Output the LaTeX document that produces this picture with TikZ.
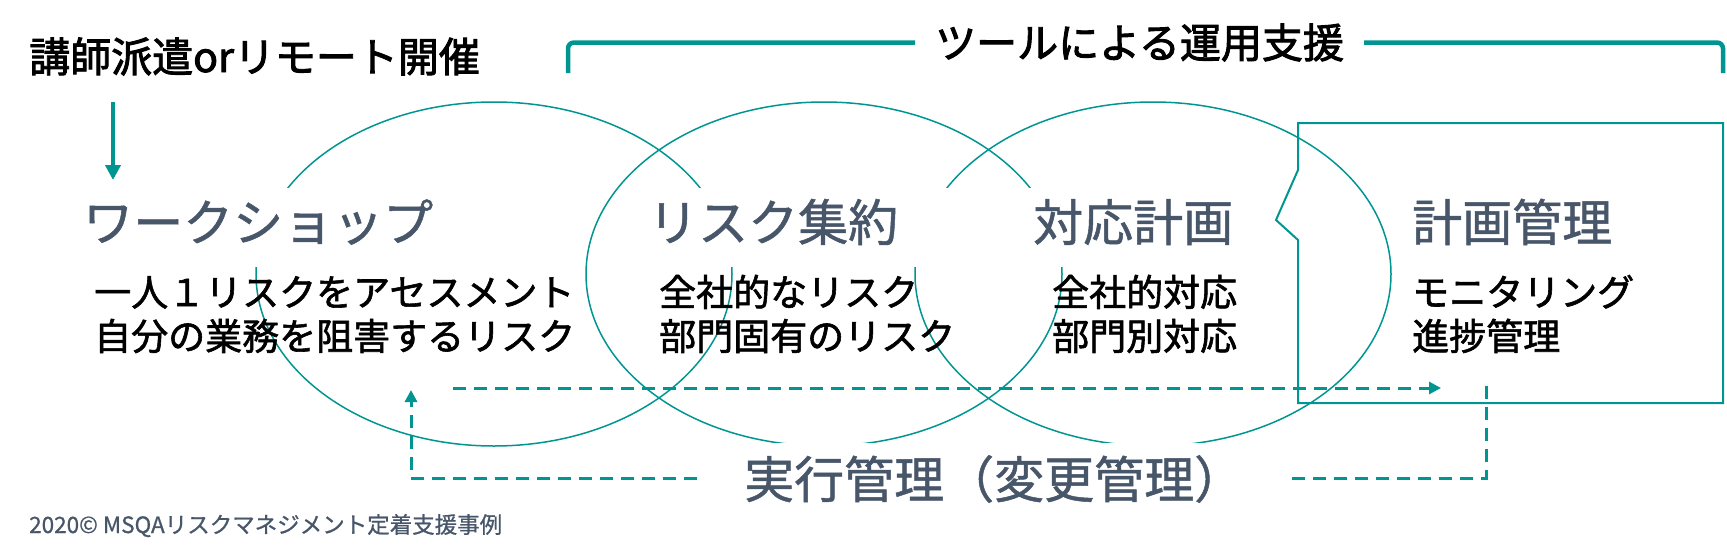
\documentclass[tikz,border=0pt]{standalone}
\usepackage{fontspec}
\setmainfont{Noto Sans CJK JP}
\newfontfamily\titlefont{Noto Sans CJK JP}[FakeBold=2.2]
\newfontfamily\bodyfont{Noto Sans CJK JP}[FakeBold=1.6]
\newfontfamily\headfont{Noto Sans CJK JP}[FakeBold=1.0]
\newfontfamily\footfont{Noto Sans CJK JP}[FakeBold=0.8]
\usetikzlibrary{arrows.meta,shapes.geometric}
\definecolor{teal1}{HTML}{009590}
\definecolor{slate}{RGB}{72,86,106}
\begin{document}
\begin{tikzpicture}[x=1pt,y=-1pt,
  ring/.style={draw=teal1, line width=1.5pt, ellipse, minimum width=476pt, minimum height=344pt, inner sep=0pt, outer sep=0pt},
  head/.style={font=\headfont\fontsize{50}{60}\selectfont, text=slate, anchor=base west, inner ysep=0pt, text height=53pt, text depth=26pt},
  body/.style={font=\bodyfont\fontsize{37}{44}\selectfont, anchor=base west, inner sep=0pt},
  big/.style={font=\titlefont\fontsize{41}{49}\selectfont, anchor=base west, inner sep=0pt},
  flow/.style={draw=teal1, line width=3pt, dash pattern=on 13pt off 8pt},
  flowtip/.style={-{Triangle[length=12pt,width=12pt]}},
  bracketline/.style={draw=teal1, line width=4.5pt, rounded corners=6pt},
  boxline/.style={draw=teal1, line width=2pt, line join=miter},
  thickarrow/.style={draw=teal1, line width=4.5pt, -{Triangle[length=15pt,width=15pt]}}
]
\useasboundingbox (0,0) rectangle (1727,554);

% circles
\node[ring] (c1) at (494,274) {};
\node[ring] (c2) at (824,274) {};
\node[ring] (c3) at (1153,274) {};

% top texts
\node[big] (title) at (29,72) {講師派遣orリモート開催};
\node[big, inner xsep=20pt] (tool) at (915,58) {ツールによる運用支援};
\draw[bracketline] (568,73) |- (tool.west);
\draw[bracketline] (tool.east) -| (1723,73);

\coordinate (a0) at (113,102);
\coordinate (a1) at (113,180);
\draw[thickarrow] (a0) -- (a1);

% headings
\node[head, fill=white, inner xsep=8pt] (ws) at (75,241) {ワークショップ};
\node[head, fill=white, inner xsep=18pt] (agg) at (630,241) {リスク集約\hspace*{50pt}};
\node[head, fill=white, inner xsep=13pt] (plan) at (1020,241) {対応計画};
\node[head, inner xsep=0pt] (mgmt) at (1412,241) {計画管理};

% body texts
\node[body] (ws1) at (94,306) {一人１リスクをアセスメント};
\node[body] (ws2) at (94,350) {自分の業務を阻害するリスク};
\node[body] (ag1) at (659,306) {全社的なリスク};
\node[body] (ag2) at (659,350) {部門固有のリスク};
\node[body] (pl1) at (1052,306) {全社的対応};
\node[body] (pl2) at (1052,350) {部門別対応};
\node[body] (mg1) at (1412,306) {モニタリング};
\node[body] (mg2) at (1412,350) {進捗管理};

% plan management box
\draw[boxline] (1298,123) -- (1298,170) -- (1276,220) -- (1298,240) -- (1298,403) -- (1723,403) -- (1723,123) -- cycle;

% execution management
\node[font=\headfont\fontsize{50}{60}\selectfont, text=slate, fill=white, anchor=base west, inner xsep=47pt, inner ysep=0pt, text height=55pt, text depth=22pt] (exec) at (697,498) {実行管理（変更管理）};

\coordinate (up) at (411,390);
\coordinate (bl) at (411,478);
\coordinate (br) at (1486,478);
\coordinate (tr) at (1486,386);
\coordinate (hs) at (453,388);
\coordinate (he) at (1441,388);
\draw[flow] (tr) -- (br) -- (exec.east |- br);
\draw[flow, flowtip] (exec.west |- bl) -- (bl) -- (up);
\draw[flow, flowtip] (hs) -- (he);

% footer
\node[font=\footfont\fontsize{22.5}{27}\selectfont, text=slate, anchor=base west, inner sep=0pt] (foot) at (29,533) {2020© MSQAリスクマネジメント定着支援事例};
\end{tikzpicture}
\end{document}
